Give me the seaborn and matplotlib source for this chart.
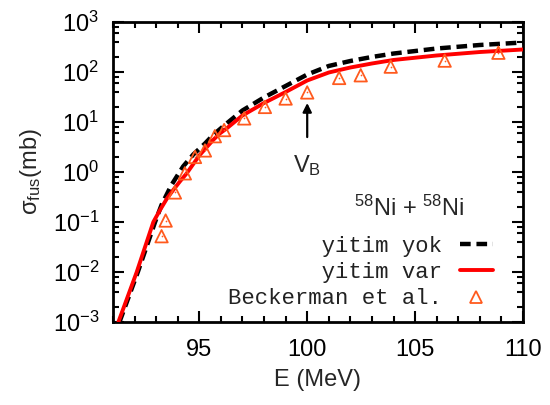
import numpy as np
import pandas as pd
import seaborn as sns
import matplotlib
matplotlib.use("Agg")
import matplotlib.pyplot as plt
from matplotlib.lines import Line2D
from matplotlib.ticker import LogLocator, MultipleLocator

# Fusion cross sections, 58Ni + 58Ni
E_no_loss = [91.3, 92.15, 92.95, 93.25, 93.71, 94.25, 94.72, 95.26, 95.64, 96.26,
             97.0, 98.0, 99.0, 100.0, 101.0, 102.0, 103.0, 104.0, 106.0, 108.0, 110.0]
sigma_no_loss = [0.001, 0.01, 0.1, 0.22, 0.55, 1.29, 2.24, 3.7, 5.5, 9.3,
                 17.0, 31.0, 52.5, 89.0, 132.0, 166.0, 200.0, 234.0, 295.0, 347.0, 389.0]

E_loss = [91.25, 92.1, 92.87, 93.18, 93.5, 93.79, 94.1, 94.41, 95.0, 95.64, 95.95,
          96.26, 97.0, 98.0, 99.0, 100.0, 101.0, 102.0, 103.0, 104.0, 106.0, 108.0, 110.0]
sigma_loss = [0.001, 0.01, 0.1, 0.174, 0.295, 0.436, 0.646, 0.933, 2.14, 4.37, 5.9,
              7.4, 13.5, 24.0, 39.8, 67.6, 97.7, 123.0, 148.0, 174.0, 214.0, 251.0, 282.0]

E_exp = [93.25, 93.44, 93.87, 94.33, 94.8, 95.26, 95.72, 96.15, 97.08, 98.04,
         99.0, 100.0, 101.48, 102.48, 103.87, 106.37, 108.86]
sigma_exp = [0.052, 0.107, 0.39, 0.94, 2.0, 2.7, 5.2, 6.9, 11.8, 20.0,
             29.5, 39.0, 76.0, 86.0, 128.0, 169.0, 243.0]

labels = ["yitim yok", "yitim var", "Beckerman et al."]
x_ticks = [95, 100, 105, 110]

sns.set_style("ticks")
plt.rcParams["font.family"] = ["Liberation Sans", "DejaVu Sans"]
plt.rcParams["mathtext.fontset"] = "custom"
plt.rcParams["mathtext.rm"] = "Liberation Sans"
plt.rcParams["mathtext.it"] = "Liberation Sans:italic"
plt.rcParams["mathtext.bf"] = "Liberation Sans:bold"

fig = plt.figure(figsize=(5.5, 4.05), dpi=100)
ax = fig.add_axes([113 / 550, 1 - 322 / 405, (523 - 113) / 550, 300 / 405])

df_no = pd.DataFrame({"E": E_no_loss, "sigma": sigma_no_loss})
df_lo = pd.DataFrame({"E": E_loss, "sigma": sigma_loss})
df_ex = pd.DataFrame({"E": E_exp, "sigma": sigma_exp})

sns.lineplot(data=df_no, x="E", y="sigma", ax=ax, color="black", lw=3.2,
             dashes=False, zorder=3)
ax.lines[-1].set_dashes([2.4, 1.3])
sns.lineplot(data=df_lo, x="E", y="sigma", ax=ax, color="#ff0000", lw=2.8, zorder=4)

exp_color = "#ff5a1e"
sns.scatterplot(data=df_ex, x="E", y="sigma", ax=ax, marker="^", s=80,
                facecolor="none", edgecolor=exp_color, linewidth=1.3, zorder=5)
sns.scatterplot(data=df_ex, x="E", y="sigma", ax=ax, marker="o", s=1.5,
                color=exp_color, linewidth=0, zorder=5)

ax.set_yscale("log")
ax.set_xlim(91, 110)
ax.set_ylim(1e-3, 1e3)
ax.set_xticks(x_ticks)
ax.xaxis.set_minor_locator(MultipleLocator(1))
ax.yaxis.set_major_locator(LogLocator(base=10, numticks=10))
ax.yaxis.set_minor_locator(LogLocator(base=10, subs=(2, 4, 6, 8), numticks=20))

ax.tick_params(which="both", direction="in", top=True, right=True, width=1.5,
               labelsize=17, colors="black")
ax.tick_params(which="major", length=8)
ax.tick_params(which="minor", length=4)
ax.tick_params(axis="x", which="major", pad=12)
ax.tick_params(axis="y", which="major", pad=10)
for sp in ax.spines.values():
    sp.set_linewidth(2)
    sp.set_color("black")

ax.set_xlabel("E (MeV)", fontsize=17, labelpad=6)
ax.set_ylabel("σ$_{\\rm fus}$(mb)", fontsize=17, labelpad=6)

# barrier marker
ax.annotate("", xy=(100, 24), xytext=(100, 5),
            arrowprops=dict(arrowstyle="-|>", color="black", lw=1.6,
                            mutation_scale=13, shrinkA=0, shrinkB=0))
ax.text(100, 1.35, "V$_{\\rm B}$", fontsize=17, ha="center", va="center")
ax.text(104.75, 0.19, "$^{58}$Ni + $^{58}$Ni", fontsize=17, ha="center", va="center")

width = max(len(s) for s in labels)
handles = [
    Line2D([], [], color="black", lw=3.2, dashes=[2.4, 1.3]),
    Line2D([], [], color="#ff0000", lw=2.8),
    Line2D([], [], color=exp_color, marker="^", ls="none", markersize=9,
           markerfacecolor="none", markeredgewidth=1.3),
]
leg = ax.legend(handles, [s.rjust(width) for s in labels], loc="lower right",
                bbox_to_anchor=(0.965, -0.01), markerfirst=False, frameon=False,
                prop={"family": "Liberation Mono", "size": 16},
                handlelength=1.5, handletextpad=0.8, labelspacing=0.24,
                borderpad=0.2)
for t in leg.get_texts():
    t.set_color("#222222")

fig.savefig("out.png", dpi=100)
